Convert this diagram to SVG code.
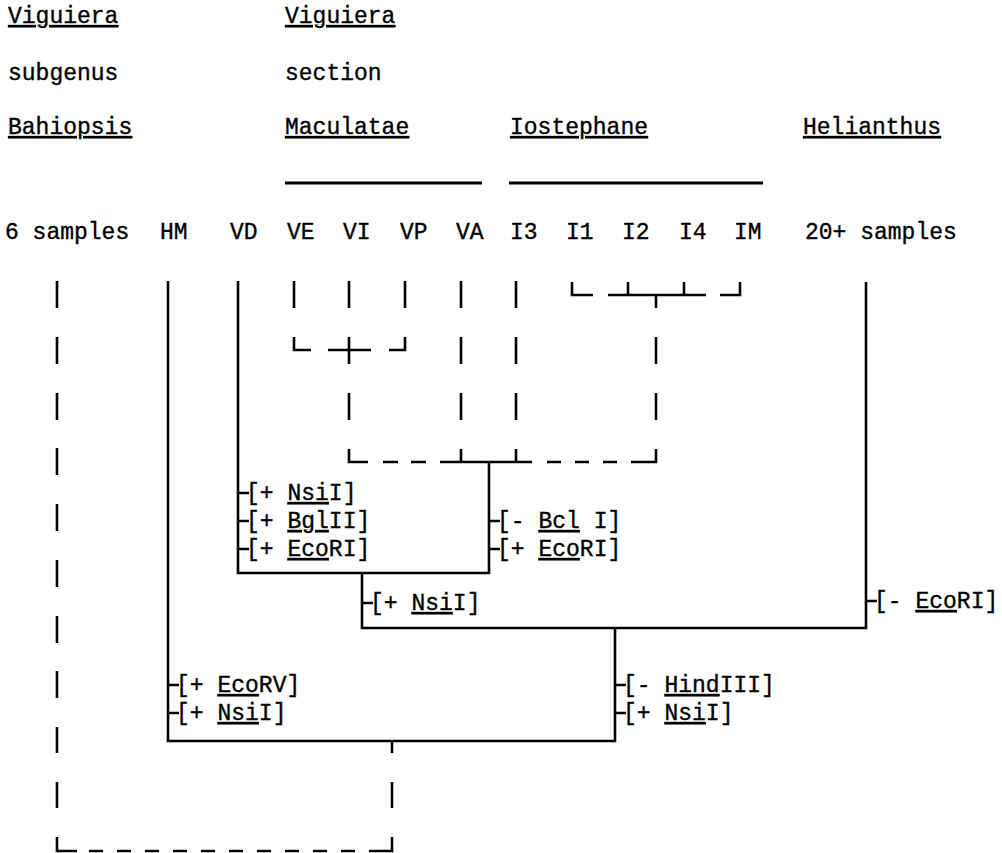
<svg xmlns="http://www.w3.org/2000/svg" width="1002" height="853" viewBox="0 0 1002 853">
<style>
.t{font-family:"Liberation Mono","Courier New",monospace;font-size:23px;fill:#000;stroke:#000;stroke-width:0.35}
.u{text-decoration:underline;text-decoration-thickness:2px;text-underline-offset:5px}
.ln{fill:none;stroke:#000;stroke-width:2.6;stroke-linecap:butt}
.hl{fill:none;stroke:#000;stroke-width:3}
</style>
<rect width="1002" height="853" fill="#fff"/>
<g id="headers">
<text class="t" x="8" y="23"><tspan class="u">Viguiera</tspan></text>
<text class="t" x="8" y="80">subgenus</text>
<text class="t" x="8" y="134"><tspan class="u">Bahiopsis</tspan></text>
<text class="t" x="285" y="23"><tspan class="u">Viguiera</tspan></text>
<text class="t" x="285" y="80">section</text>
<text class="t" x="285" y="134"><tspan class="u">Maculatae</tspan></text>
<text class="t" x="510" y="134"><tspan class="u">Iostephane</tspan></text>
<text class="t" x="803" y="134"><tspan class="u">Helianthus</tspan></text>
<path class="hl" d="M285 183H482M509 183H763"/>
</g>
<g id="taxa">
<text class="t" x="5" y="239">6 samples</text>
<text class="t" x="160" y="239">HM</text>
<text class="t" x="230" y="239">VD</text>
<text class="t" x="287" y="239">VE</text>
<text class="t" x="343" y="239">VI</text>
<text class="t" x="400" y="239">VP</text>
<text class="t" x="456" y="239">VA</text>
<text class="t" x="510" y="239">I3</text>
<text class="t" x="566" y="239">I1</text>
<text class="t" x="622" y="239">I2</text>
<text class="t" x="679" y="239">I4</text>
<text class="t" x="734" y="239">IM</text>
<text class="t" x="805" y="239">20+ samples</text>
</g>
<g id="connectors">
<path class="ln" d="M168 281V741H615V628M238 281V573H489V462M362 573V628H866V282"/>
<path class="ln" d="M57 281V308M57 337V364M57 393V420M57 448V475M57 504V531M57 560V587M57 616V643M57 671V698M57 727V753M57 782V808M57 837V851H77M89 851H103M117 851H131M145 851H159M173 851H187M201 851H215M229 851H243M257 851H271M285 851H299M313 851H327M341 851H355M369 851H392V837M392 808V782M392 753V741"/>
<path class="ln" d="M294 281V308M294 337V350H311M328 350H371M389 350H405V337M405 308V281M349 281V308M349 337V364M349 393V420M349 449V462H368M383 462H398M411 462H426M440 462H532M547 462H561M575 462H589M603 462H617M631 462H656V449M461 281V308M461 337V364M461 393V420M461 449V462M516 281V308M516 337V364M516 393V420M516 449V462M656 420V393M656 364V337M656 308V295M572 282V295H593M608 295H706M720 295H740V282M628 282V295M684 282V295"/>
<path class="ln" d="M238 493H249M238 521H249M238 549H249M489 521H500M489 549H500M362 603H373M866 601H877M168 685H179M168 713H179M615 685H626M615 713H626"/>
</g>
<g id="labels">
<text class="t" x="246" y="500">[+ <tspan class="u">Nsi</tspan>I]</text>
<text class="t" x="246" y="528">[+ <tspan class="u">Bgl</tspan>II]</text>
<text class="t" x="246" y="556">[+ <tspan class="u">Eco</tspan>RI]</text>
<text class="t" x="497" y="528">[- <tspan class="u">Bcl</tspan> I]</text>
<text class="t" x="497" y="556">[+ <tspan class="u">Eco</tspan>RI]</text>
<text class="t" x="370" y="610">[+ <tspan class="u">Nsi</tspan>I]</text>
<text class="t" x="874" y="608">[- <tspan class="u">Eco</tspan>RI]</text>
<text class="t" x="176" y="692">[+ <tspan class="u">Eco</tspan>RV]</text>
<text class="t" x="176" y="720">[+ <tspan class="u">Nsi</tspan>I]</text>
<text class="t" x="623" y="692">[- <tspan class="u">Hind</tspan>III]</text>
<text class="t" x="623" y="720">[+ <tspan class="u">Nsi</tspan>I]</text>
</g>
</svg>
